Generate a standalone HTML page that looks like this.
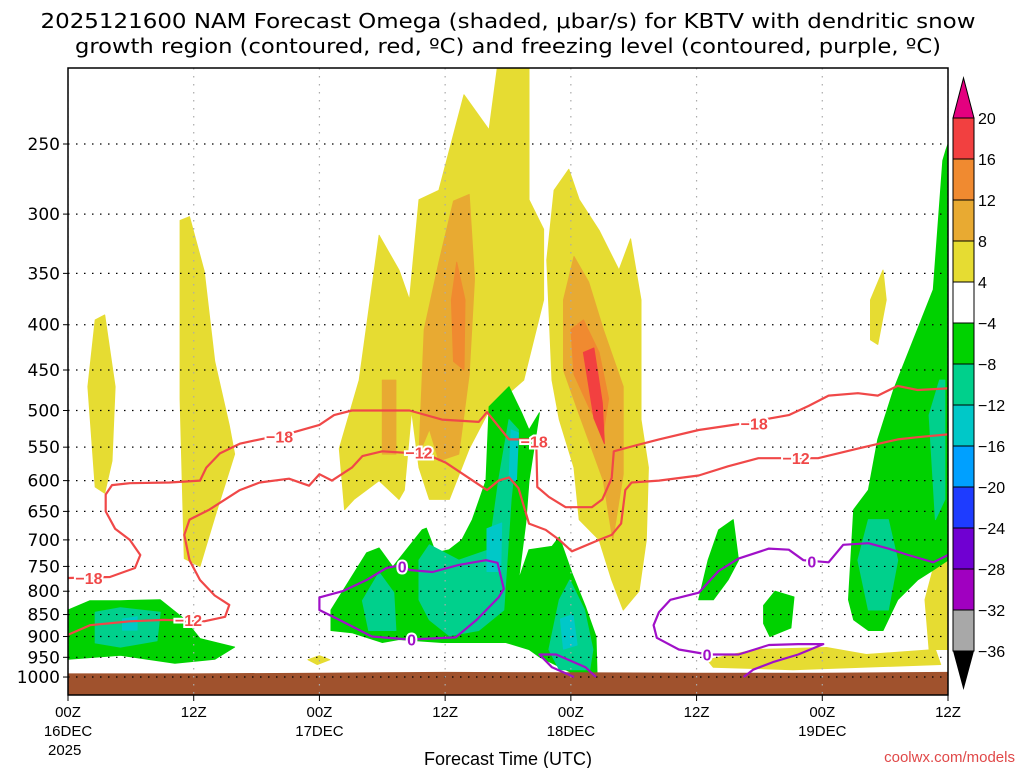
<!DOCTYPE html>
<html><head><meta charset="utf-8"><style>
html,body{margin:0;padding:0;background:#fff;}
svg{display:block;font-family:"Liberation Sans",sans-serif;}
</style></head><body>
<svg id="chart" width="1024" height="768" viewBox="0 0 1024 768">
<text x="508" y="28" text-anchor="middle" font-size="20" textLength="935" lengthAdjust="spacingAndGlyphs" style="font-family:'DejaVu Sans',sans-serif">2025121600 NAM Forecast Omega (shaded, μbar/s) for KBTV with dendritic snow</text>
<text x="508" y="53" text-anchor="middle" font-size="20" textLength="866" lengthAdjust="spacingAndGlyphs" style="font-family:'DejaVu Sans',sans-serif">growth region (contoured, red, ºC) and freezing level (contoured, purple, ºC)</text>
<defs><clipPath id="pc"><rect x="68" y="68" width="880" height="627"/></clipPath></defs>
<g id="plot" clip-path="url(#pc)"></g>
<g id="axes"></g>
<g id="cbar"></g>
<text x="508" y="765" text-anchor="middle" font-size="18">Forecast Time (UTC)</text>
<text x="1015" y="762" text-anchor="end" font-size="15" fill="#e04848">coolwx.com/models</text>
</svg>
<script>
const NS="http://www.w3.org/2000/svg";
const X0=68,X1=948,Y0=68,Y1=695;
const xs=h=>X0+h*(X1-X0)/84;
const ys=p=>144+(Math.log(p)-Math.log(250))*384.5;

const pressureTicks=[250,300,350,400,450,500,550,600,650,700,750,800,850,900,950,1000];
const hourTicks=[0,12,24,36,48,60,72,84];
const hourLabels=["00Z","12Z","00Z","12Z","00Z","12Z","00Z","12Z"];
const dayLabels=["16DEC","","17DEC","","18DEC","","19DEC",""];
const cbarLevels=[20,16,12,8,4,-4,-8,-12,-16,-20,-24,-28,-32,-36];

const yellowA=[[1.9,470],[2.6,395],[3.5,390],[4.5,470],[4.2,570],[3.5,620],[2.6,610]];
const yellowB=[[10.7,305],[11.6,302],[13,348],[14,440],[15.4,520],[15.9,560],[14,660],[12.6,750],[11.1,735],[10.7,485]];
const yellowC=[[26.4,647],[25.9,552],[27.8,462],[29.7,317],[31.6,347],[32.6,375],[33.5,289],[35.4,282],[37.8,220],[40.2,241],[41.1,200],[44,200],[44,289],[45.4,312],[45.4,375],[43.5,462],[40.2,500],[38.3,552],[36.4,630],[34.5,630],[33.5,580],[32.8,500],[32.1,615],[31.6,630],[29.7,600],[27.3,630]];
const yellowD=[[46.4,282],[45.7,338],[46.2,462],[46.9,512],[48.3,580],[48.8,664],[50.7,700],[51.9,777],[53,840],[54.5,800],[55.2,700],[55.4,580],[54.7,512],[54.7,375],[53.7,320],[52.6,347],[50.7,313],[48.8,289],[47.8,267]];
const yellowE=[[61,956],[65.7,931],[72.4,926],[76.2,943],[82.8,931],[83.3,968],[69.2,981],[61.6,975]];
const yellowF=[[81.8,818],[82.8,738],[83.7,664],[84,664],[84,931],[82.2,931]];
const yellowG=[[22.9,956],[24,946],[25,956],[23.8,968]];
const yellowH=[[76.6,375],[77.8,347],[78.1,375],[77.3,421],[76.6,416]];
const orangeA=[[34,405],[35.4,340],[36.8,290],[38.3,285],[38.8,355],[38.3,455],[37.3,560],[35.4,570],[34.5,525],[33.5,560]];
const orangeB=[[30,462],[31.3,462],[31.3,560],[30,560]];
const orangeC=[[47.3,375],[48.3,335],[49.7,358],[51.1,405],[53,470],[53,590],[52,700],[51.1,600],[48.8,505],[47.3,450]];
const dorangeA=[[36.6,375],[37.1,340],[37.9,375],[37.8,450],[36.8,440]];
const dorangeB=[[48,405],[49.2,395],[50.7,430],[51.6,485],[51.1,530],[49.7,495],[48.3,455]];
const redA=[[49.2,430],[50.2,425],[51,490],[51.2,545],[50.2,510]];
const greenA=[[0,840],[2.1,820],[5,820],[8.8,818],[11.1,860],[12.6,905],[15.9,925],[14,955],[10.2,965],[5,945],[0,955]];
const greenB=[[25.1,840],[28.5,724],[29.7,715],[31,751],[33.8,682],[34.2,679],[35.1,724],[36.4,718],[37.6,700],[38.6,664],[39.9,600],[40.2,495],[42.1,470],[43.3,503],[44,526],[45,503],[44,600],[43.7,669],[43,777],[44,718],[46.2,712],[46.9,695],[48.1,763],[49.4,833],[50.4,900],[50.5,989],[48.1,989],[45,949],[44,931],[41.8,914],[35.7,914],[31.6,907],[30,914],[27.1,891],[25.1,886]];
const greenC=[[60.2,818],[61.1,738],[62.1,682],[63.5,664],[64,738],[63,777],[61.6,818]];
const greenD=[[66.4,830],[67.5,800],[69.3,812],[69,880],[67,900],[66.4,870]];
const greenE=[[74.5,818],[75,647],[76.4,615],[77.3,539],[78.8,474],[80.7,416],[82.6,365],[83.5,261],[83.8,254],[84,250],[84,738],[82.6,757],[81.1,777],[79.2,818],[77.8,886],[76.4,886],[75,862]];
const tealA=[[2.6,845],[5,835],[8.8,845],[8.5,910],[5,925],[2.6,915]];
const tealB=[[28.1,820],[29.7,762],[31.1,803],[31.3,886],[28.7,886]];
const tealC=[[33.5,738],[34.5,709],[37.3,738],[40.2,718],[41.1,600],[42.1,512],[43,526],[42.3,630],[41.6,840],[39.2,886],[36.4,898],[34.5,862],[33.5,818]];
const tealD=[[45.9,931],[46.9,818],[47.9,777],[49.3,840],[50.1,931],[49.8,981],[46.9,981]];
const tealE=[[75.4,738],[76.4,664],[78.3,664],[79.2,738],[78.3,840],[76.4,840]];
const tealF=[[82.2,506],[83.2,462],[83.7,462],[83.7,630],[82.8,664]];
const cyanA=[[42.3,526],[43,530],[42.8,600],[42.1,600]];
const cyanB=[[40,680],[41.4,670],[41.3,760],[40,760]];
const cyanC=[[47,860],[48.2,850],[48.6,920],[47.3,930]];
const cyanD=[[5.2,860],[6.6,855],[6.6,885],[5.2,885]];
const groundHours=[0,12,24,36,48,60,72,84];
const groundTop=[992,992,990,988,989,990,990,988];

const dgzWarm=[[0,773],[4,771],[6.4,753],[6.9,728],[5.9,700],[4.5,680],[3.6,650],[3.6,622],[4.2,607],[5.9,604],[9.7,603],[12.6,600],[13.2,580],[14.5,559],[16.4,545],[18.3,539],[21.1,531],[24,519],[25.4,506],[27.1,500],[29.7,500],[32.6,500],[35.7,512],[39.2,515],[40,502],[42.1,539],[44.3,539],[44.7,546],[44.8,610],[45.9,626],[47.5,643],[50,643],[51,630],[51.9,596],[52.1,556],[53.8,549],[56.4,539],[60.2,526],[64,518],[68.8,506],[70.7,494],[72.6,481],[75.4,478],[77.3,481],[79.2,469],[81.1,474],[84,472]];
const dgzCold=[[0,896],[2.1,874],[5.9,865],[9.2,862],[13,865],[15,855],[15.4,829],[14,809],[12.6,777],[11.6,738],[11.1,691],[11.6,664],[13.5,647],[16.4,615],[18.3,603],[21.1,597],[23,608],[24,590],[25.2,600],[27.1,580],[28.1,563],[30,556],[34.2,560],[36.1,573],[40,615],[41.1,600],[42.1,595],[43,612],[44,671],[45.6,682],[46.9,700],[48.1,721],[50.7,700],[51.9,691],[52.8,671],[53.2,615],[53.8,603],[56.4,600],[60.2,592],[63,578],[65.9,566],[71.6,566],[75.4,552],[79.2,539],[81.1,536],[84,532]];
const frzA=[[31.9,747],[30.4,753],[28.5,777],[26.2,800],[24,813],[24,840],[25.9,862],[29,900],[32.6,907],[37,902],[39,862],[41.1,813],[41.6,795],[41,743],[39.9,738],[37.3,747],[34.8,761],[32.6,757],[31.9,747]];
const frzB=[[50.4,1000],[49.4,975],[46.6,943],[45,943],[46.2,975],[48.3,1000]];
const frzC=[[84,728],[82.6,742],[80.2,728],[78.3,716],[76.4,706],[74,709],[72.6,742],[70.2,738],[68.8,718],[66.9,716],[64,735],[62.1,759],[60.2,803],[57.5,818],[56.4,845],[55.9,874],[56.2,903],[58.3,931],[61.1,943],[64,943],[66.9,920],[69.7,918],[72.1,918],[69.7,943],[67.3,962],[65.4,981],[64.5,1000]];
const redLabels=[[2,773,"-18"],[20.2,535,"-18"],[11.5,862,"-12"],[33.5,558,"-12"],[44.5,542,"-18"],[65.5,517,"-18"],[69.5,566,"-12"]];
const purpleLabels=[[31.9,750,"0"],[32.8,907,"0"],[71,740,"0"],[61,943,"0"]];

const plot=document.getElementById('plot'),axes=document.getElementById('axes'),cbar=document.getElementById('cbar');
function mk(tag,attrs,parent){const e=document.createElementNS(NS,tag);for(const k in attrs)e.setAttribute(k,attrs[k]);parent.appendChild(e);return e;}
function pts(a){return a.map(d=>xs(d[0]).toFixed(1)+","+ys(d[1]).toFixed(1)).join(" ");}
function fill(a,c,name){const e=mk('polygon',{points:pts(a),fill:c,stroke:c,'stroke-width':1,'stroke-linejoin':'round'},plot);

}
function line(a,c,name){const e=mk('polyline',{points:pts(a),fill:'none',stroke:c,'stroke-width':2.2,'stroke-linejoin':'round'},plot);

}

const Y='#e6dc32',O='#e8aa32',DO='#f08a30',R='#f24040',G='#00d200',T='#00d08c',C='#00c8c8';
[[yellowA,'a'],[yellowB,'b'],[yellowC,'c'],[yellowD,'d'],[yellowE,'e'],[yellowF,'f'],[yellowG,'g'],[yellowH,'h']].forEach(s=>fill(s[0],Y,'omega-4-8-'+s[1]));
[[orangeA,'a'],[orangeB,'b'],[orangeC,'c']].forEach(s=>fill(s[0],O,'omega-8-12-'+s[1]));
[[dorangeA,'a'],[dorangeB,'b']].forEach(s=>fill(s[0],DO,'omega-12-16-'+s[1]));
fill(redA,R,'omega-16-20');
[[greenA,'a'],[greenB,'b'],[greenC,'c'],[greenD,'d'],[greenE,'e']].forEach(s=>fill(s[0],G,'omega-neg4-neg8-'+s[1]));
[[tealA,'a'],[tealB,'b'],[tealC,'c'],[tealD,'d'],[tealE,'e'],[tealF,'f']].forEach(s=>fill(s[0],T,'omega-neg8-neg12-'+s[1]));
[[cyanA,'a'],[cyanB,'b'],[cyanC,'c'],[cyanD,'d']].forEach(s=>fill(s[0],C,'omega-neg12-neg16-'+s[1]));
const gp=groundHours.map((h,i)=>[h,groundTop[i]]).concat([[84,1100],[0,1100]]);
fill(gp,'#a0522d','ground');
pressureTicks.forEach(p=>{const e=mk('line',{x1:X0,x2:X1,y1:ys(p),y2:ys(p),stroke:'#000','stroke-width':1.2,'stroke-dasharray':'1.5,6.5'},plot);

});
hourTicks.forEach(h=>{const e=mk('line',{x1:xs(h),x2:xs(h),y1:Y0,y2:Y1,stroke:'#aaa','stroke-width':1.2,'stroke-dasharray':'1.5,6.5'},plot);

});
line(dgzWarm,'#f04848','dgz-minus18-contour');
line(dgzCold,'#f04848','dgz-minus12-contour');
line(frzA,'#a010c8','freezing-contour-a');
line(frzB,'#a010c8','freezing-contour-b');
line(frzC,'#a010c8','freezing-contour-c');
redLabels.forEach(l=>{const t=mk('text',{x:xs(l[0]),y:ys(l[1])+6,'text-anchor':'middle','font-size':16,'font-weight':'bold',fill:'#f04848',stroke:'#fff','stroke-width':4,'paint-order':'stroke'},plot);t.textContent=l[2].replace('-','−');

});
purpleLabels.forEach(l=>{const t=mk('text',{x:xs(l[0]),y:ys(l[1])+6,'text-anchor':'middle','font-size':16,'font-weight':'bold',fill:'#a010c8',stroke:'#fff','stroke-width':4,'paint-order':'stroke'},plot);t.textContent=l[2];

});
const b=mk('rect',{x:X0,y:Y0,width:X1-X0,height:Y1-Y0,fill:'none',stroke:'#000','stroke-width':1.5},axes);


pressureTicks.forEach(p=>{mk('line',{x1:X0-5,x2:X0,y1:ys(p),y2:ys(p),stroke:'#000'},axes);
const t=mk('text',{x:60,y:ys(p)+6,'text-anchor':'end','font-size':17,style:"font-family:'DejaVu Sans',sans-serif"},axes);t.textContent=p;

});
hourTicks.forEach((h,i)=>{mk('line',{x1:xs(h),x2:xs(h),y1:Y1,y2:Y1+6,stroke:'#000'},axes);
const t=mk('text',{x:xs(h),y:717,'text-anchor':'middle','font-size':15},axes);t.textContent=hourLabels[i];


if(dayLabels[i]){const d=mk('text',{x:xs(h),y:736,'text-anchor':'middle','font-size':15},axes);d.textContent=dayLabels[i];

}});
const yr=mk('text',{x:xs(0)-20,y:755,'font-size':15},axes);yr.textContent='2025';


const cbColors=['#f24040','#f08a30','#e8aa32','#e6dc32','#ffffff','#00d200','#00d08c','#00c8c8','#00a0ff','#1e3cff','#7000d2','#a000c0','#a8a8a8'];
const CB0=118,CBs=41,CX=953,CW=21;
const up=mk('polygon',{points:`${CX},${CB0} ${CX+CW},${CB0} ${CX+CW/2},78`,fill:'#e4007f',stroke:'#000'},cbar);


cbColors.forEach((c,i)=>{const r=mk('rect',{x:CX,y:CB0+i*CBs,width:CW,height:CBs,fill:c,stroke:'#000','stroke-width':1},cbar);

});
const dn=mk('polygon',{points:`${CX},${CB0+13*CBs} ${CX+CW},${CB0+13*CBs} ${CX+CW/2},690`,fill:'#000'},cbar);


cbarLevels.forEach((v,i)=>{const t=mk('text',{x:978,y:CB0+i*CBs+6,'font-size':16},cbar);t.textContent=(v<0?'−'+(-v):v);

});
</script>
</body></html>
